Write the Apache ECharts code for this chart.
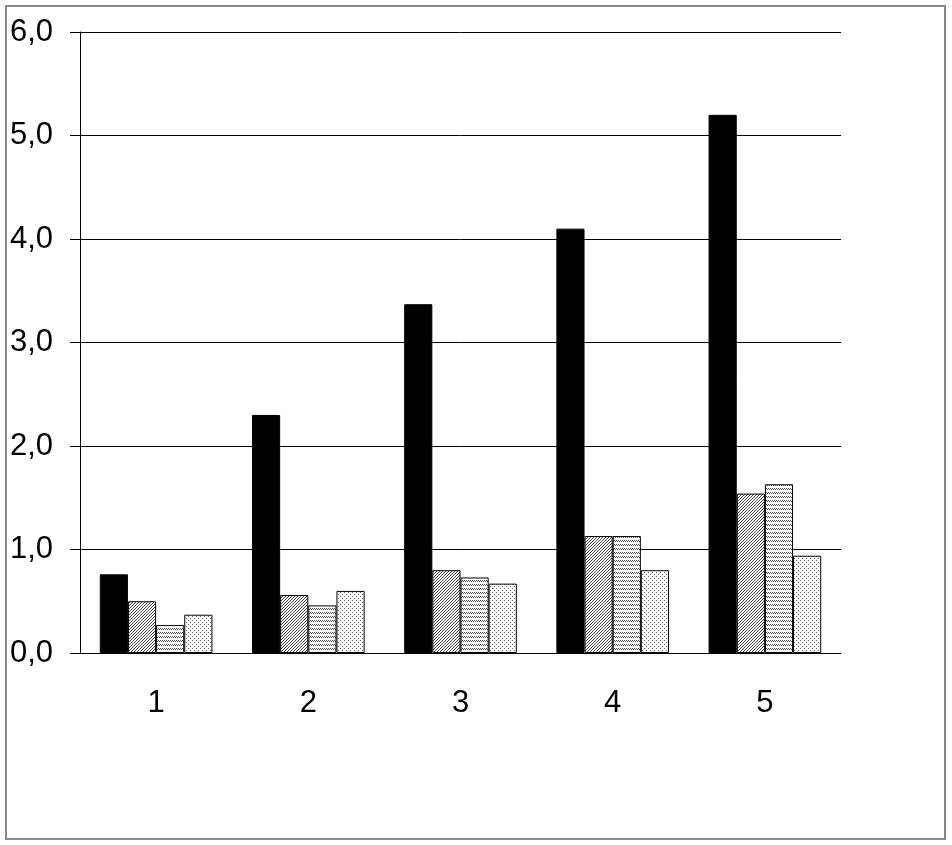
<!DOCTYPE html>
<html><head><meta charset="utf-8">
<script src="https://cdn.jsdelivr.net/npm/echarts@6/dist/echarts.min.js"></script>
<style>html,body{margin:0;padding:0;background:#fff}#c{width:952px;height:845px}</style>
</head><body><div id="c"></div>
<script>
const categories = ['1','2','3','4','5'];
const seriesA = [0.76, 2.30, 3.37, 4.10, 5.20];
const seriesB = [0.50, 0.56, 0.80, 1.13, 1.54];
const seriesC = [0.27, 0.46, 0.73, 1.13, 1.63];
const seriesD = [0.37, 0.60, 0.67, 0.80, 0.94];
const yTicks = [0,1,2,3,4,5,6];

function tile(w, h, fn) {
  const c = document.createElement('canvas');
  c.width = w; c.height = h;
  const ctx = c.getContext('2d');
  ctx.fillStyle = '#fff'; ctx.fillRect(0,0,w,h);
  fn(ctx);
  return c;
}
const hatch = tile(3, 3, ctx => {
  ctx.fillStyle = '#444';
  for (let i = 0; i < 3; i++) ctx.fillRect(i, 2 - i, 1, 1);
});
const horiz = tile(6, 4, ctx => {
  ctx.fillStyle = '#555';
  for (let i = 0; i < 6; i += 2) { ctx.fillRect(i, 0, 1, 1); ctx.fillRect(i+1, 1, 1, 1); }
});
const dots = tile(4, 4, ctx => {
  ctx.fillStyle = '#666';
  ctx.fillRect(0, 0, 1, 1); ctx.fillRect(2, 2, 1, 1);
});

const chart = echarts.init(document.getElementById('c'));
const border = {borderColor: '#000', borderWidth: 1};
function s(data, color) {
  return {type: 'bar', data: data, barGap: '0%', barCategoryGap: '26%',
    itemStyle: Object.assign({color: color}, border), animation: false};
}
chart.setOption({
  animation: false,
  graphic: [{type: 'rect', shape: {x: 6, y: 6, width: 939, height: 833},
    style: {fill: null, stroke: '#888', lineWidth: 2}, silent: true}],
  grid: {left: 80, top: 32, width: 761, height: 621},
  xAxis: {type: 'category', data: categories,
    axisLine: {lineStyle: {color: '#000'}},
    axisTick: {length: 10, lineStyle: {color: '#000'}},
    axisLabel: {margin: 35, fontSize: 31, color: '#000', fontFamily: 'Liberation Sans'}},
  yAxis: {type: 'value', min: yTicks[0], max: yTicks[yTicks.length-1], interval: 1,
    axisLine: {show: true, lineStyle: {color: '#000'}},
    axisTick: {show: true, length: 10, lineStyle: {color: '#000'}},
    splitLine: {lineStyle: {color: '#000'}},
    axisLabel: {margin: 27, fontSize: 31, color: '#000', fontFamily: 'Liberation Sans',
      formatter: v => v.toFixed(1).replace('.', ',')}},
  series: [
    s(seriesA, '#000'),
    s(seriesB, {image: hatch, repeat: 'repeat'}),
    s(seriesC, {image: horiz, repeat: 'repeat'}),
    s(seriesD, {image: dots, repeat: 'repeat'})
  ]
});
</script></body></html>
